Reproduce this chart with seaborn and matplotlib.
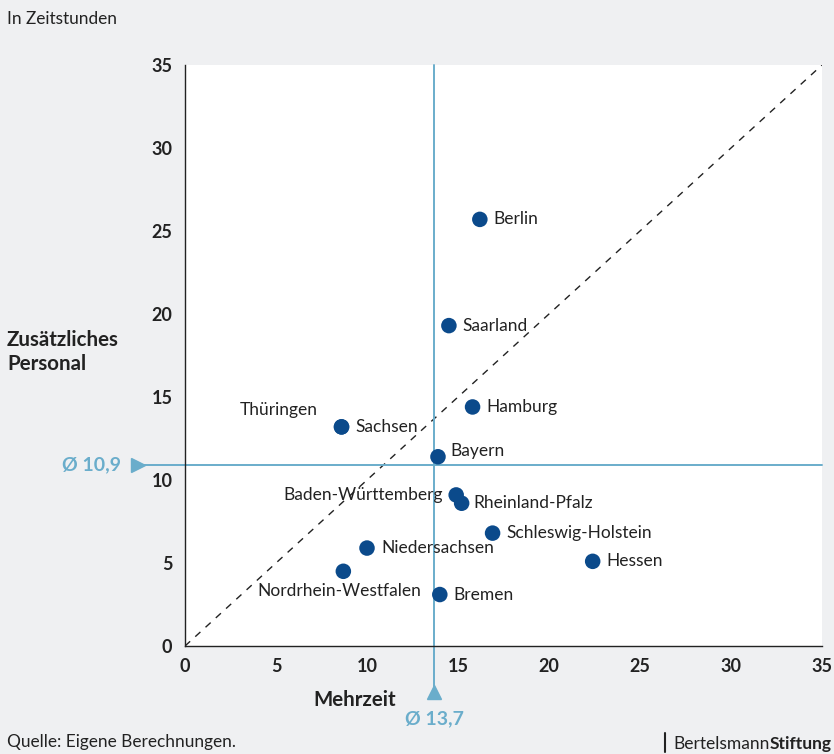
import pandas as pd
import seaborn as sns
import matplotlib.pyplot as plt

# values (hours)
laender = ["Berlin", "Saarland", "Hamburg", "Thüringen", "Sachsen", "Bayern",
           "Baden-Württemberg", "Rheinland-Pfalz", "Schleswig-Holstein",
           "Hessen", "Niedersachsen", "Nordrhein-Westfalen", "Bremen"]
mehrzeit = [16.2, 14.5, 15.8, 8.6, 8.6, 13.9, 14.9, 15.2, 16.9, 22.4, 10.0, 8.7, 14.0]
personal = [25.7, 19.3, 14.4, 13.2, 13.2, 11.4, 9.1, 8.6, 6.8, 5.1, 5.9, 4.5, 3.1]
mean_x = 13.7
mean_y = 10.9
ticks = [0, 5, 10, 15, 20, 25, 30, 35]

# label offsets in pixels (dx, dy, ha)
offsets = {
    "Thüringen": (-24, 17, "right"),
    "Baden-Württemberg": (-13, 0, "right"),
    "Nordrhein-Westfalen": (78, -20, "right"),
    "Bayern": (12, 6, "left"),
    "Rheinland-Pfalz": (12, 0, "left"),
}

df = pd.DataFrame({"land": laender, "mehrzeit": mehrzeit, "personal": personal})

sns.set_style("white")
plt.rcParams["font.family"] = ["Lato", "DejaVu Sans"]

bg = "#eff0f2"
dark = "#0b4a8b"
light = "#6aadcb"
txt = "#222222"

fig = plt.figure(figsize=(8.34, 7.54), dpi=100, facecolor=bg)
ax = fig.add_axes([185 / 834, 1 - 646 / 754, 637 / 834, 581 / 754])
ax.set_facecolor("white")

ax.set_xlim(0, 35)
ax.set_ylim(0, 35)

# diagonal reference
ax.plot([0, 35], [0, 35], ls=(0, (5, 5)), color="#222222", lw=1, zorder=1)

# mean lines, extending outside the axes
ax.plot([-2.7, 35], [mean_y, mean_y], color=light, lw=1.4, clip_on=False, zorder=2)
ax.plot([mean_x, mean_x], [35, -2.75], color=light, lw=1.4, clip_on=False, zorder=2)
ax.plot([-2.6], [mean_y], marker=">", ms=10, color=light, clip_on=False, zorder=3)
ax.plot([mean_x], [-2.75], marker="^", ms=10, color=light, clip_on=False, zorder=3)
ax.text(-3.5, mean_y, "Ø 10,9", color=light, fontsize=14, fontweight="bold",
        ha="right", va="center")
ax.text(mean_x, -4.4, "Ø 13,7", color=light, fontsize=14, fontweight="bold",
        ha="center", va="center")

sns.scatterplot(data=df, x="mehrzeit", y="personal", ax=ax, color=dark,
                s=125, edgecolor="none", zorder=4, legend=False)

for land, x, y in zip(laender, mehrzeit, personal):
    dx, dy, ha = offsets.get(land, (14, 0, "left"))
    ax.annotate(land, (x, y), xytext=(dx, dy), textcoords="offset pixels",
                ha=ha, va="center", fontsize=12.5, color=txt, zorder=5)

ax.set_xticks(ticks)
ax.set_yticks(ticks)
ax.tick_params(direction="in", length=6, width=1, colors="#222222",
               labelsize=13, pad=9)
for lab in ax.get_xticklabels() + ax.get_yticklabels():
    lab.set_fontweight("bold")
for s in ["top", "right"]:
    ax.spines[s].set_visible(False)
for s in ["left", "bottom"]:
    ax.spines[s].set_color("#222222")
    ax.spines[s].set_linewidth(1)
ax.set_xlabel("")
ax.set_ylabel("")

fig.text(355 / 834, 1 - 700 / 754, "Mehrzeit", fontsize=14.8, fontweight="bold",
         color=txt, ha="center", va="center")
fig.text(7 / 834, 1 - 352 / 754, "Zusätzliches\nPersonal", fontsize=14.8,
         fontweight="bold", color=txt, ha="left", va="center", linespacing=1.2)
fig.text(7 / 834, 1 - 19 / 754, "In Zeitstunden", fontsize=12.4, color=txt,
         ha="left", va="center")
fig.text(7 / 834, 1 - 742 / 754, "Quelle: Eigene Berechnungen.", fontsize=12.4,
         color=txt, ha="left", va="center")

# logo-like footer
fig.add_artist(plt.Line2D([665 / 834, 665 / 834], [1 - 752 / 754, 1 - 733 / 754],
                          color="#222222", lw=1.5))
t = fig.text(673 / 834, 1 - 744 / 754, "Bertelsmann", fontsize=12.5,
             color=txt, ha="left", va="center")
fig.canvas.draw()
bb = t.get_window_extent()
fig.text(bb.x1 / 834, 1 - 744 / 754, "Stiftung", fontsize=12.5, color=txt,
         fontweight="bold", ha="left", va="center")

fig.savefig("out.png", dpi=100, facecolor=bg)
